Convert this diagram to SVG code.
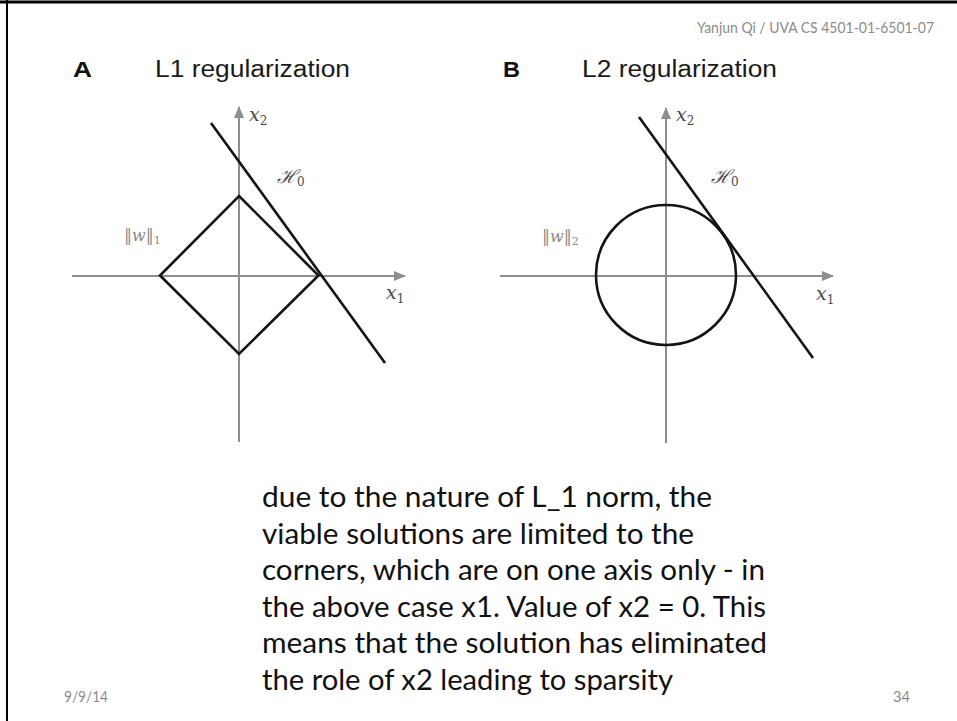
<svg xmlns="http://www.w3.org/2000/svg" width="957" height="721" viewBox="0 0 957 721">
<style>
.axis{stroke:#8e8e8e;stroke-width:2;fill:none}
.curve{stroke:#141414;stroke-width:2.6;fill:none}
.title{font-family:"Liberation Sans",Arial,sans-serif;font-size:23px;fill:#1a1a1a}
.letter{font-family:"Liberation Sans",Arial,sans-serif;font-size:22px;font-weight:bold;fill:#111}
.math{font-family:"DejaVu Serif","Liberation Serif",serif;font-style:italic;font-size:19px;fill:#4a4a4a}
.sub{font-size:12px;font-style:normal}
.norm{font-family:"DejaVu Serif","Liberation Serif",serif;font-size:16px;fill:#8a8a8a}
.body{font-family:Lato,"Open Sans",sans-serif;font-size:29px;fill:#111}
.small{font-family:Lato,"Open Sans",sans-serif;font-size:15px;fill:#8c8c8c}
</style>
<defs>
<marker id="arr" viewBox="0 0 12 10" refX="11" refY="5" markerWidth="12" markerHeight="10" markerUnits="userSpaceOnUse" orient="auto">
<path d="M0,0 L12,5 L0,10 Z" fill="#8e8e8e"/>
</marker>
</defs>
<rect x="0" y="0" width="957" height="721" fill="#fff"/>
<g id="frame">
<line x1="0" y1="2" x2="957" y2="2" stroke="#000" stroke-width="3"/>
<line x1="7" y1="0" x2="7" y2="721" stroke="#000" stroke-width="2"/>
</g>
<g id="header">
<text class="small" x="697" y="33" textLength="237" lengthAdjust="spacingAndGlyphs">Yanjun Qi / UVA CS 4501-01-6501-07</text>
</g>
<g id="panelA">
<text class="letter" x="73" y="77" textLength="19" lengthAdjust="spacingAndGlyphs">A</text>
<text class="title" x="155" y="77" textLength="195" lengthAdjust="spacingAndGlyphs">L1 regularization</text>
<line class="axis" x1="239" y1="442" x2="239" y2="107" marker-end="url(#arr)"/>
<line class="axis" x1="72" y1="276" x2="405" y2="276" marker-end="url(#arr)"/>
<polygon class="curve" points="239,196 318.5,275.5 239,354 160,275.5"/>
<line class="curve" x1="211" y1="123" x2="385" y2="363"/>
<text class="math" x="249" y="121">x<tspan class="sub" dy="4">2</tspan></text>
<text class="math" x="386" y="299">x<tspan class="sub" dy="4">1</tspan></text>
<text class="math" x="277" y="183">ℋ<tspan class="sub" dy="3">0</tspan></text>
<text class="norm" x="124" y="241">‖<tspan font-style="italic">w</tspan>‖<tspan font-size="11px" dy="3">1</tspan></text>
</g>
<g id="panelB">
<text class="letter" x="503" y="77" textLength="17" lengthAdjust="spacingAndGlyphs">B</text>
<text class="title" x="582" y="77" textLength="195" lengthAdjust="spacingAndGlyphs">L2 regularization</text>
<line class="axis" x1="666" y1="443" x2="666" y2="108" marker-end="url(#arr)"/>
<line class="axis" x1="500" y1="276" x2="833" y2="276" marker-end="url(#arr)"/>
<circle class="curve" cx="666" cy="275" r="70"/>
<line class="curve" x1="639" y1="117" x2="813" y2="358"/>
<text class="math" x="676" y="121">x<tspan class="sub" dy="4">2</tspan></text>
<text class="math" x="816" y="300">x<tspan class="sub" dy="4">1</tspan></text>
<text class="math" x="711" y="183">ℋ<tspan class="sub" dy="3">0</tspan></text>
<text class="norm" x="542" y="242">‖<tspan font-style="italic">w</tspan>‖<tspan font-size="11px" dy="3">2</tspan></text>
</g>
<g id="caption">
<text class="body" x="262" y="507" textLength="450" lengthAdjust="spacingAndGlyphs">due to the nature of L_1 norm, the</text>
<text class="body" x="262" y="543.5" textLength="432" lengthAdjust="spacingAndGlyphs">viable solutions are limited to the</text>
<text class="body" x="262" y="580" textLength="503" lengthAdjust="spacingAndGlyphs">corners, which are on one axis only - in</text>
<text class="body" x="262" y="616.5" textLength="504" lengthAdjust="spacingAndGlyphs">the above case x1. Value of x2 = 0. This</text>
<text class="body" x="262" y="653" textLength="505" lengthAdjust="spacingAndGlyphs">means that the solution has eliminated</text>
<text class="body" x="262" y="689.5" textLength="411" lengthAdjust="spacingAndGlyphs">the role of x2 leading to sparsity</text>
</g>
<g id="footer">
<text class="small" x="64" y="702" textLength="44" lengthAdjust="spacingAndGlyphs">9/9/14</text>
<text class="small" x="893" y="702" textLength="17" lengthAdjust="spacingAndGlyphs">34</text>
</g>
</svg>
